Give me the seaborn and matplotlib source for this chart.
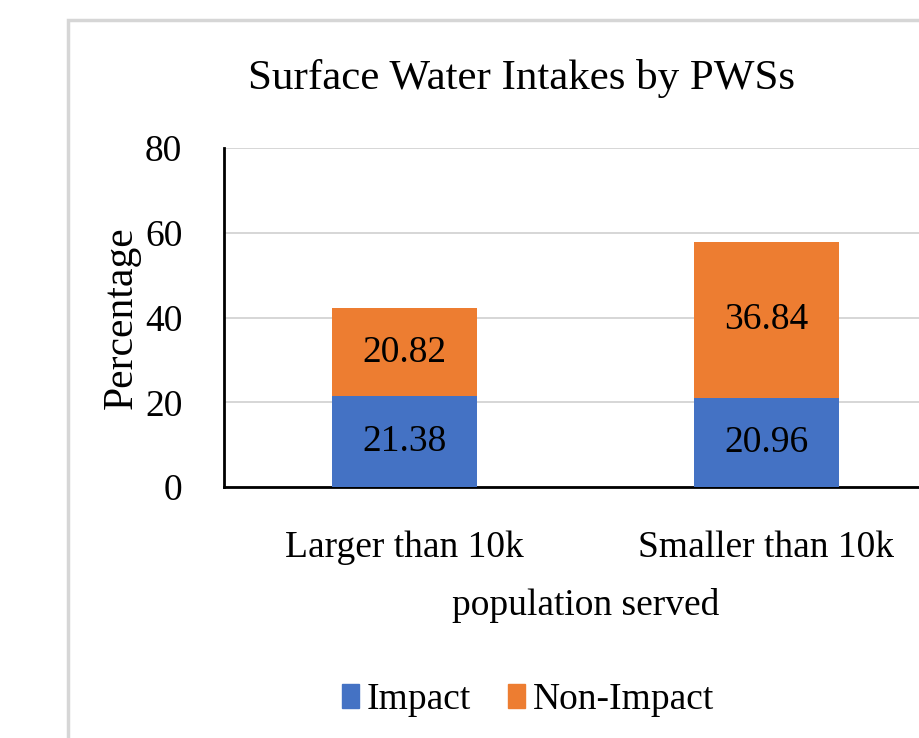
import matplotlib
matplotlib.use("Agg")
import matplotlib.pyplot as plt
import matplotlib.patches as mpatches
import seaborn as sns
import pandas as pd

categories = ["Larger than 10k", "Smaller than 10k"]
impact = [21.38, 20.96]
non_impact = [20.82, 36.84]
yticks = [0, 20, 40, 60, 80]

BLUE = "#4472C4"
ORANGE = "#ED7D31"

sns.set_theme(style="white")
plt.rcParams["font.family"] = ["Liberation Serif", "DejaVu Serif"]
plt.rcParams["text.color"] = "black"
plt.rcParams["axes.labelcolor"] = "black"
plt.rcParams["xtick.color"] = "black"
plt.rcParams["ytick.color"] = "black"

fig = plt.figure(figsize=(9.2, 7.38), dpi=100, facecolor="white")
ax = fig.add_axes([224 / 920, 251 / 738, 723 / 920, 339 / 738])

totals = [a + b for a, b in zip(impact, non_impact)]
df = pd.DataFrame({"cat": categories, "impact": impact,
                   "non_impact": non_impact, "total": totals})

sns.barplot(data=df, x="cat", y="total", color=ORANGE, width=0.4,
            saturation=1, ax=ax, zorder=2, linewidth=0, edgecolor="none")
sns.barplot(data=df, x="cat", y="impact", color=BLUE, width=0.4,
            saturation=1, ax=ax, zorder=3, linewidth=0, edgecolor="none")

for i, (a, b) in enumerate(zip(impact, non_impact)):
    ax.text(i, a / 2, f"{a:.2f}", ha="center", va="center",
            fontsize=27, color="black", zorder=4)
    ax.text(i, a + b / 2, f"{b:.2f}", ha="center", va="center",
            fontsize=27, color="black", zorder=4)

ax.set_xlim(-0.5, 1.5)
ax.set_ylim(0, 80)
ax.set_yticks(yticks)
ax.set_yticklabels([str(t) for t in yticks], fontsize=27)
ax.tick_params(axis="x", labelsize=27, length=0, pad=31)
ax.tick_params(axis="y", length=0, pad=30)
ax.yaxis.grid(True, color="#d0d0d0", linewidth=1.2, zorder=0)
ax.set_axisbelow(True)

for s in ["top", "right"]:
    ax.spines[s].set_visible(False)
ax.spines["left"].set_color("black")
ax.spines["left"].set_linewidth(2)
ax.spines["bottom"].set_color("black")
ax.spines["bottom"].set_linewidth(2)

ax.set_xlabel("population served", fontsize=27, labelpad=17)
ax.set_ylabel("Percentage", fontsize=30, labelpad=10)
ax.yaxis.set_label_coords(-83 / 723, 0.5)

fig.text(522 / 920, 1 - 78 / 738, "Surface Water Intakes by PWSs",
         ha="center", va="center", fontsize=31, color="black")

handles = [mpatches.Patch(color=BLUE, label="Impact"),
           mpatches.Patch(color=ORANGE, label="Non-Impact")]
fig.legend(handles=handles, loc="center", bbox_to_anchor=(528 / 920, 1 - 700 / 738),
           ncol=2, frameon=False, fontsize=27, handlelength=0.45,
           handleheight=0.6, handletextpad=0.2, columnspacing=1.0)

frame = mpatches.Rectangle((68 / 920, -0.05), 1.0, 1 - 20 / 738 + 0.05,
                           transform=fig.transFigure, fill=False,
                           edgecolor="#d6d6d6", linewidth=2.5)
fig.patches.append(frame)

fig.savefig("out.png", dpi=100, facecolor="white")
